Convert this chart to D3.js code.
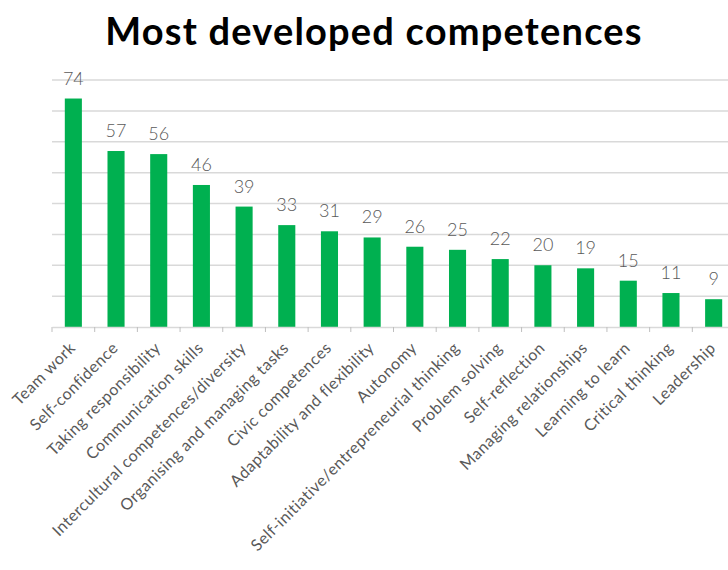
<!DOCTYPE html>
<html>
<head>
<meta charset="utf-8">
<script src="https://cdn.jsdelivr.net/npm/d3@7"></script>
<style>
  body { margin: 0; background: #fff; }
  svg { display: block; }
</style>
</head>
<body>
<div id="chart"></div>
<script>
var categories = ['Team work', 'Self-confidence', 'Taking responsibility', 'Communication skills',
  'Intercultural competences/diversity', 'Organising and managing tasks', 'Civic competences',
  'Adaptability and flexibility', 'Autonomy', 'Self-initiative/entrepreneurial thinking',
  'Problem solving', 'Self-reflection', 'Managing relationships', 'Learning to learn',
  'Critical thinking', 'Leadership'];
var values = [74, 57, 56, 46, 39, 33, 31, 29, 26, 25, 22, 20, 19, 15, 11, 9];
var yTicks = [0, 10, 20, 30, 40, 50, 60, 70, 80];

var data = categories.map(function (c, i) { return { name: c, value: values[i] }; });

var W = 728, H = 570;
var margin = { top: 80, left: 52, bottom: 243 };
var plotRight = 735;
var height = H - margin.top - margin.bottom;

var svg = d3.select('#chart').append('svg')
  .attr('width', W)
  .attr('height', H);

// title
svg.append('text')
  .attr('x', 374)
  .attr('y', 45)
  .attr('text-anchor', 'middle')
  .style('font-family', 'Lato, "Noto Sans", sans-serif')
  .style('font-weight', 'bold')
  .style('font-size', '38px')
  .style('letter-spacing', '1.2px')
  .style('fill', '#000')
  .text('Most developed competences');

var x = d3.scaleBand()
  .domain(categories)
  .range([margin.left, plotRight])
  .paddingInner(0.6)
  .paddingOuter(0.3);

var y = d3.scaleLinear()
  .domain([0, 80])
  .range([margin.top + height, margin.top]);

// gridlines
svg.append('g')
  .selectAll('line')
  .data(yTicks.slice(1))
  .enter()
  .append('line')
  .attr('x1', margin.left)
  .attr('x2', plotRight)
  .attr('y1', function (d) { return y(d); })
  .attr('y2', function (d) { return y(d); })
  .style('stroke', '#d9d9d9')
  .style('stroke-width', 1.5);

// bars
svg.append('g')
  .selectAll('rect')
  .data(data)
  .enter()
  .append('rect')
  .attr('x', function (d) { return x(d.name); })
  .attr('width', x.bandwidth())
  .attr('y', function (d) { return y(d.value); })
  .attr('height', function (d) { return y(0) - y(d.value); })
  .style('fill', '#00b050');

// value labels
svg.append('g')
  .selectAll('text')
  .data(data)
  .enter()
  .append('text')
  .attr('x', function (d) { return x(d.name) + x.bandwidth() / 2; })
  .attr('y', function (d) { return y(d.value) - 14; })
  .attr('text-anchor', 'middle')
  .style('font-family', 'Lato, "Noto Sans", sans-serif')
  .style('font-weight', 300)
  .style('font-size', '18px')
  .style('fill', '#595959')
  .text(function (d) { return d.value; });

// x axis: baseline with ticks between categories
var xAxis = d3.axisBottom(x).tickSize(0).tickFormat('');
var gx = svg.append('g')
  .attr('transform', 'translate(0,' + y(0) + ')')
  .call(xAxis);
gx.select('.domain').style('stroke', '#d9d9d9').style('stroke-width', 1.5);

var step = x.step();
var bounds = d3.range(categories.length + 1).map(function (i) { return margin.left + i * step; });
gx.selectAll('.sep')
  .data(bounds)
  .enter()
  .append('line')
  .attr('x1', function (d) { return d; })
  .attr('x2', function (d) { return d; })
  .attr('y1', 0)
  .attr('y2', 5)
  .style('stroke', '#bfbfbf')
  .style('stroke-width', 1);

// category labels
svg.append('g')
  .selectAll('text')
  .data(data)
  .enter()
  .append('text')
  .attr('transform', function (d) {
    var cx = x(d.name) + x.bandwidth() / 2 + 3;
    return 'translate(' + cx + ',' + (y(0) + 22) + ') rotate(-45)';
  })
  .attr('text-anchor', 'end')
  .style('font-family', 'Lato, "Noto Sans", sans-serif')
  .style('font-size', '16px')
  .style('letter-spacing', '0.5px')
  .style('fill', '#595959')
  .text(function (d) { return d.name; });
</script>
</body>
</html>
